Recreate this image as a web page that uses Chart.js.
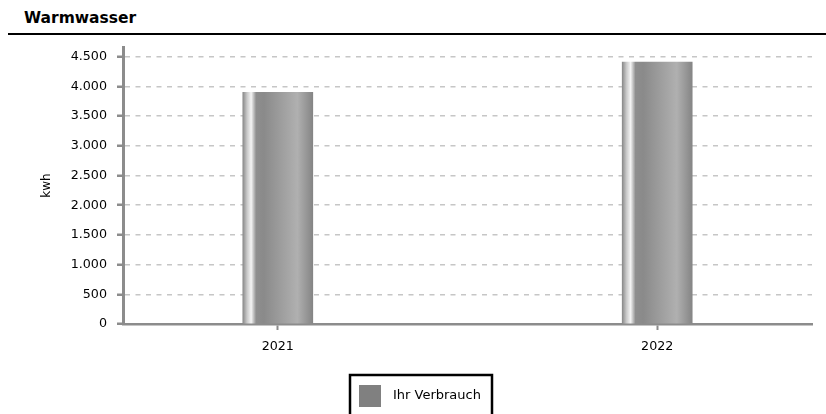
<!DOCTYPE html>
<html>
<head>
<meta charset="utf-8">
<script src="https://cdn.jsdelivr.net/npm/chart.js@4/dist/chart.umd.min.js"></script>
<style>
  body { margin: 0; background: #fff; width: 826px; height: 414px; overflow: hidden; }
  #title {
    position: absolute; left: 8px; top: 0; width: 818px; height: 33px;
    border-bottom: 2px solid #000;
    font: bold 15.5px "DejaVu Sans", sans-serif; color: #000;
  }
  #title span { position: absolute; left: 16px; top: 9px; }
  #wrap { position: absolute; left: 0; top: 35px; width: 826px; height: 379px; }
</style>
</head>
<body>
<div id="title"><span>Warmwasser</span></div>
<div id="wrap"><canvas id="myChart"></canvas></div>
<script>
// chart data
const years = [2021, 2022];
const verbrauch = [3900, 4410];
const yTicks = [0, 500, 1000, 1500, 2000, 2500, 3000, 3500, 4000, 4500];
const seriesName = 'Ihr Verbrauch';
const unitLabel = 'kwh';

const FONT = '"DejaVu Sans", sans-serif';

function formatDe(v) {
    return String(v).replace(/\B(?=(\d{3})+(?!\d))/g, '.');
}

// give every bar its own horizontal metallic gradient, once its pixel position is known
const metalBars = {
    id: 'metalBars',
    beforeDatasetsDraw(chart) {
        const meta = chart.getDatasetMeta(0);
        meta.data.forEach(bar => {
            const half = bar.width / 2;
            if (!isFinite(bar.x) || !isFinite(half)) return;
            const g = chart.ctx.createLinearGradient(bar.x - half, 0, bar.x + half, 0);
            g.addColorStop(0.00, '#8a8a8a');
            g.addColorStop(0.06, '#c8c8c8');
            g.addColorStop(0.12, '#f4f4f4');
            g.addColorStop(0.19, '#8e8e8e');
            g.addColorStop(0.30, '#8a8a8a');
            g.addColorStop(0.78, '#b0b0b0');
            g.addColorStop(1.00, '#858585');
            // options are shared between bars, so each one gets a copy
            bar.options = Object.assign({}, bar.options, { backgroundColor: g });
        });
    }
};

// simple boxed legend under the x axis
const boxedLegend = {
    id: 'boxedLegend',
    afterDraw(chart) {
        const c = chart.ctx;
        const left = 350, top = 340;
        c.save();
        c.strokeStyle = '#000';
        c.lineWidth = 2.5;
        c.strokeRect(left, top, 142, 60);
        c.fillStyle = '#808080';
        c.fillRect(left + 9, top + 10, 22, 22);
        c.fillStyle = '#000';
        c.font = '13px ' + FONT;
        c.textBaseline = 'middle';
        c.fillText(seriesName, left + 43, top + 21);
        c.restore();
    }
};

function initChart() {
    const ctx = document.getElementById('myChart');
    new Chart(ctx, {
        type: 'bar',
        data: {
            datasets: [{
                label: seriesName,
                data: years.map((y, i) => ({ x: y, y: verbrauch[i] })),
                backgroundColor: '#8a8a8a',
                borderWidth: 0,
                barThickness: 70
            }]
        },
        options: {
            responsive: true,
            maintainAspectRatio: false,
            animation: false,
            layout: { padding: { top: 12, right: 14, left: 0, bottom: 45 } },
            scales: {
                x: {
                    type: 'linear',
                    offset: false,
                    min: 2020.592,
                    max: 2022.408,
                    afterBuildTicks: s => { s.ticks = years.map(v => ({ value: v })); },
                    afterFit: s => { s.height = 45; },
                    ticks: {
                        color: '#000',
                        font: { family: FONT, size: 12.7 },
                        padding: 9,
                        callback: v => String(v)
                    },
                    grid: {
                        offset: false,
                        drawOnChartArea: false,
                        color: '#8c8c8c',
                        tickLength: 6,
                        tickWidth: 2
                    },
                    border: { color: '#8c8c8c', width: 2.5 }
                },
                y: {
                    min: 0,
                    max: 4665,
                    afterBuildTicks: s => { s.ticks = yTicks.map(v => ({ value: v })); },
                    afterFit: s => { s.width = 123; s.paddingTop = 0; },
                    title: {
                        display: true,
                        text: unitLabel,
                        color: '#000',
                        font: { family: FONT, size: 12 },
                        padding: { top: 40, bottom: 0 }
                    },
                    ticks: {
                        color: '#000',
                        font: { family: FONT, size: 12.7 },
                        padding: 10,
                        callback: v => formatDe(v)
                    },
                    grid: {
                        color: '#c6c6c6',
                        tickColor: '#8c8c8c',
                        tickLength: 6,
                        tickWidth: 2.5,
                        lineWidth: 1.5
                    },
                    border: { color: '#8c8c8c', width: 3, dash: [5, 5.5] }
                }
            },
            plugins: {
                legend: { display: false },
                tooltip: { enabled: false }
            }
        },
        plugins: [metalBars, boxedLegend]
    });
}

document.addEventListener('DOMContentLoaded', initChart);
</script>
</body>
</html>
